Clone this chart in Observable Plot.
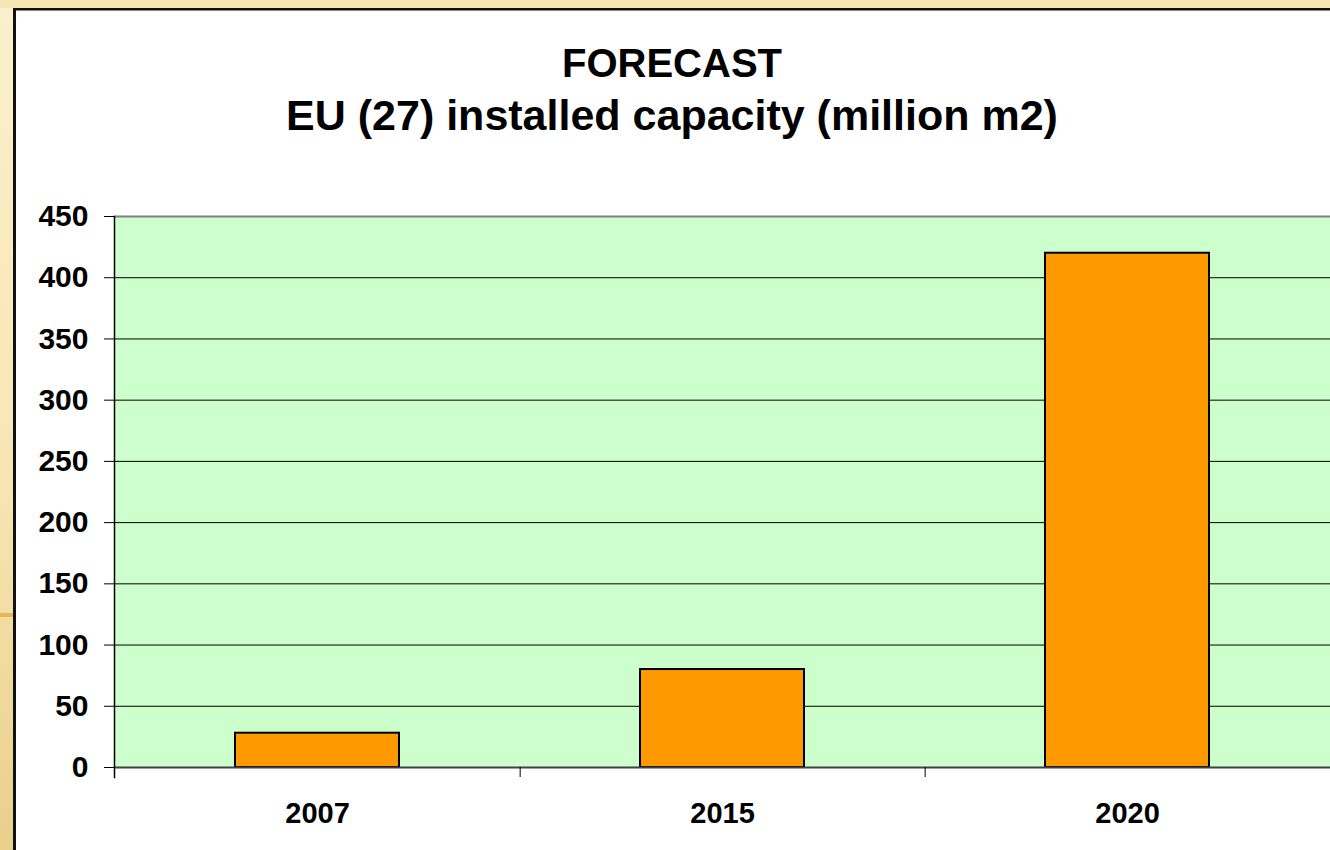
<!DOCTYPE html>
<html><head><meta charset="utf-8">
<script src="https://cdn.jsdelivr.net/npm/d3@7"></script>
<script src="https://cdn.jsdelivr.net/npm/@observablehq/plot@0.6"></script>
<style>
html,body{margin:0;padding:0;width:1330px;height:850px;overflow:hidden;background:#fff;}
body{position:relative;font-family:"Liberation Sans",Arial,sans-serif;}
#stripL{position:absolute;left:0;top:0;width:13px;height:850px;background:linear-gradient(180deg,#FBF0CC 0%,#F7E6B4 55%,#E8CF8C 100%);}
#stripT{position:absolute;left:0;top:0;width:1330px;height:8px;background:#F6E6B4;}
#bordL{position:absolute;left:13px;top:8px;width:3px;height:842px;background:#111;}
#bordT{position:absolute;left:13px;top:8px;width:1317px;height:2px;background:#111;}
#bordT2{position:absolute;left:16px;top:10px;width:1314px;height:1px;background:#888;}
#accent{position:absolute;left:0;top:613px;width:13px;height:4px;background:#EFB255;}
.title{position:absolute;left:14px;width:1316px;text-align:center;font-weight:bold;line-height:53px;color:#000;white-space:nowrap;}
#t1{top:37px;font-size:40px;}
#t2{top:89px;font-size:43px;}
#chart{position:absolute;left:0;top:160px;width:1330px;}
</style></head>
<body>
<div id="stripL"></div>
<div id="stripT"></div>
<div id="bordL"></div>
<div id="bordT"></div>
<div id="bordT2"></div>
<div id="accent"></div>
<div class="title" id="t1">FORECAST</div>
<div class="title" id="t2">EU (27) installed capacity (million m2)</div>
<div id="chart"></div>
<script>
const years = ["2007", "2015", "2020"];
const capacity = [28, 80, 420];
const yTicks = [0, 50, 100, 150, 200, 250, 300, 350, 400, 450];
const gridTicks = [50, 100, 150, 200, 250, 300, 350, 400];
const yMax = 450;

const data = years.map((year, i) => ({year, value: capacity[i]}));
const W = 1330, H = 690, mL = 114, mR = 0, mT = 56, mB = 83;
const step = (W - mL - mR) / years.length;
const plotH = H - mT - mB;

const chart = Plot.plot({
  width: W, height: H,
  marginLeft: mL, marginRight: mR, marginTop: mT, marginBottom: mB,
  style: {background: "transparent", overflow: "visible", fontFamily: "'Liberation Sans', Arial, sans-serif", color: "#000"},
  x: {domain: years, paddingInner: 0.595, paddingOuter: 0.2975, label: null},
  y: {domain: [0, yMax], label: null},
  marks: [
    Plot.frame({fill: "#CCFFCC", stroke: "none"}),
    Plot.gridY(gridTicks, {stroke: "#000", strokeOpacity: 1, strokeWidth: 1}),
    Plot.ruleY([yMax], {stroke: "#808080", strokeWidth: 2}),
    Plot.barY(data, {x: "year", y: "value", fill: "#FF9900", stroke: "#000", strokeWidth: 2}),
    Plot.ruleY([0], {stroke: "#404040", strokeWidth: 2}),
    Plot.frame({anchor: "left", stroke: "#000", strokeWidth: 1.5, insetBottom: -10}),
    Plot.tickX(years.slice(0, -1), {x: d => d, dx: step / 2, insetTop: plotH, insetBottom: -10, stroke: "#000", strokeWidth: 1}),
    Plot.axisY({ticks: yTicks, tickSize: 10, tickPadding: 16, fontSize: 30, fontWeight: "bold", stroke: "#000"}),
    Plot.axisX({tickSize: 0, tickPadding: 35, fontSize: 29, fontWeight: "bold"})
  ]
});
document.getElementById("chart").appendChild(chart);
</script>
</body></html>
